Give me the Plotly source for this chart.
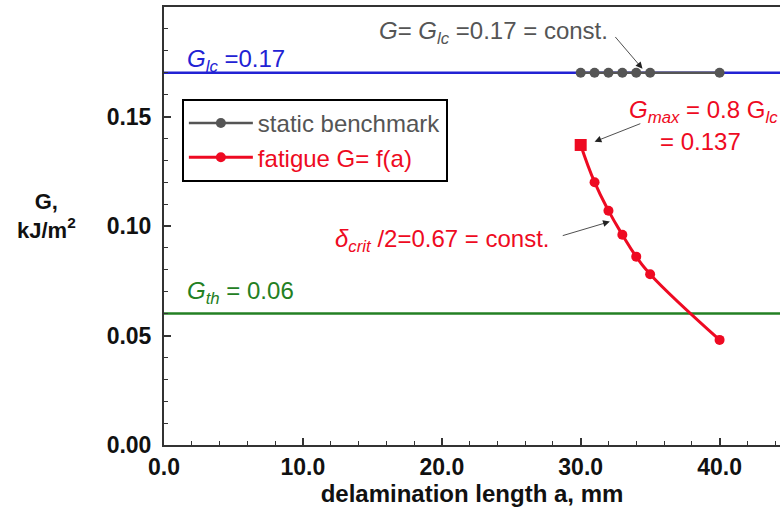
import plotly.graph_objects as go

# Delamination length a (mm) and energy release rate G (kJ/m^2)
a_static = [30, 31, 32, 33, 34, 35, 40]
G_static = [0.17, 0.17, 0.17, 0.17, 0.17, 0.17, 0.17]

a_fatigue = [30, 31, 32, 33, 34, 35, 40]
G_fatigue = [0.137, 0.120, 0.107, 0.096, 0.086, 0.078, 0.048]

G_Ic = 0.17
G_th = 0.06
G_max = 0.137

x_ticks = [0, 10, 20, 30, 40]
y_ticks = [0.00, 0.05, 0.10, 0.15]

BLUE = "#2222d4"
GREEN = "#238023"
RED = "#ee0a22"
GRAY = "#555555"
FONT = "Liberation Sans, Arial, sans-serif"

fig = go.Figure()

fig.add_trace(go.Scatter(
    x=a_static, y=G_static, mode="lines+markers",
    name=f"<span style='color:{GRAY}'>static benchmark</span>",
    line=dict(color=GRAY, width=2.5),
    marker=dict(symbol="circle", size=10, color=GRAY),
))

fig.add_trace(go.Scatter(
    x=a_fatigue, y=G_fatigue, mode="lines+markers",
    name=f"<span style='color:{RED}'>fatigue G= f(a)</span>",
    line=dict(color=RED, width=3, shape="spline", smoothing=1.3),
    marker=dict(symbol="circle", size=10, color=RED),
))

# starting point of the fatigue curve at G_max
fig.add_trace(go.Scatter(
    x=[a_fatigue[0]], y=[G_max], mode="markers", showlegend=False,
    marker=dict(symbol="square", size=12, color=RED),
))

# threshold / toughness levels
fig.add_shape(type="line", xref="paper", x0=0, x1=1, yref="y", y0=G_Ic, y1=G_Ic,
              line=dict(color=BLUE, width=2.5), layer="below")
fig.add_shape(type="line", xref="paper", x0=0, x1=1, yref="y", y0=G_th, y1=G_th,
              line=dict(color=GREEN, width=2.5), layer="below")

ann_font = dict(family=FONT, size=24)

def label(x, y, text, color, xanchor="left"):
    fig.add_annotation(x=x, y=y, xref="x", yref="y", text=text, showarrow=False,
                       xanchor=xanchor, yanchor="middle",
                       font=dict(ann_font, color=color))

def arrow(x_tail, y_tail, x_head, y_head):
    fig.add_annotation(x=x_head, y=y_head, ax=x_tail, ay=y_tail,
                       xref="x", yref="y", axref="x", ayref="y", text="",
                       showarrow=True, arrowhead=2, arrowsize=1.7,
                       arrowwidth=0.8, arrowcolor="#222222")

label(1.5, 0.1755, "<i>G</i><sub><i>lc</i></sub> =0.17", BLUE)
label(15.3, 0.1885, "<i>G</i>= <i>G</i><sub><i>lc</i></sub> =0.17 = const.", GRAY)
label(33.3, 0.1525, "<i>G</i><sub><i>max</i></sub> = 0.8 G<sub><i>lc</i></sub>", RED)
label(41.7, 0.1385, "= 0.137", RED, xanchor="right")
label(12.2, 0.0935, "<i>δ</i><sub><i>crit</i></sub> /2=0.67 = const.", RED)
label(1.5, 0.0695, "<i>G</i><sub><i>th</i></sub> = 0.06", GREEN)

arrow(32.4, 0.187, 34.45, 0.1718)
arrow(34.4, 0.147, 31.0, 0.1385)
arrow(28.6, 0.0954, 32.1, 0.1020)

# y-axis title (paper coordinates computed from the plot-area pixel box)
fig.add_annotation(x=(46 - 164) / 616, y=(445 - 216) / 438, xref="paper", yref="paper",
                   text="<b>G,</b><br><b>kJ/m<sup>2</sup></b>",
                   xanchor="center", yanchor="middle", showarrow=False,
                   font=dict(family=FONT, size=22, color="#111111"))

axis_common = dict(
    showline=True, linecolor="#333333", linewidth=2,
    ticks="inside", ticklen=7, tickwidth=1.5, tickcolor="#333333",
    showgrid=False, zeroline=False,
    tickfont=dict(family=FONT, size=23, color="#111111", weight="bold"),
)

fig.update_layout(
    width=780, height=513,
    margin=dict(l=164, r=0, t=7, b=68),
    paper_bgcolor="white", plot_bgcolor="white",
    xaxis=dict(axis_common, range=[0, 44.35], tickvals=x_ticks, tickformat=".1f",
               mirror=True,
               minor=dict(ticks="inside", ticklen=4, tickwidth=1.2, dtick=2, tickcolor="#333333"),
               title=dict(text="delamination length a, mm",
                          font=dict(family=FONT, size=24, color="#111111", weight="bold"),
                          standoff=4)),
    yaxis=dict(axis_common, range=[0, 0.2], tickvals=y_ticks, tickformat=".2f",
               ticklabelstandoff=6,
               minor=dict(ticks="inside", ticklen=4, tickwidth=1.2, dtick=0.01, tickcolor="#333333")),
    legend=dict(x=0.029, y=0.79, xanchor="left", yanchor="top",
                bordercolor="#000000", borderwidth=2, bgcolor="white",
                font=dict(family=FONT, size=24), itemwidth=64,
                tracegroupgap=0),
    showlegend=True,
)

fig.write_html("out.html")
